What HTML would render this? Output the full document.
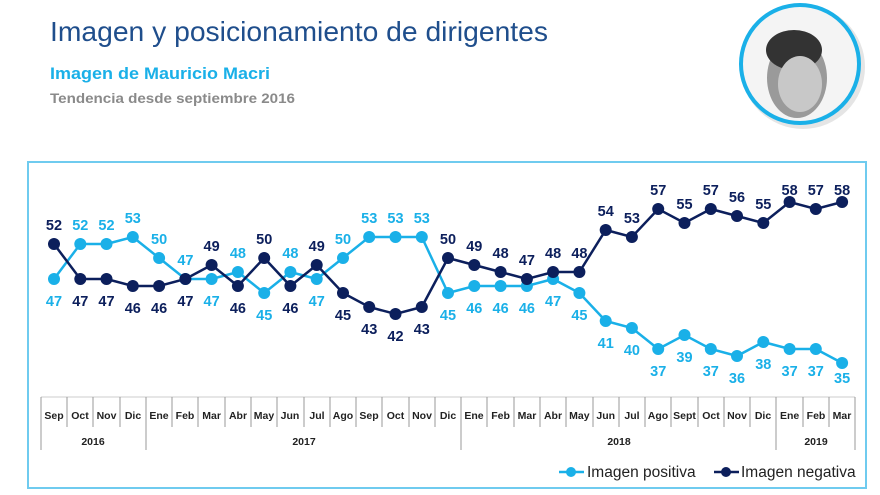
<!DOCTYPE html>
<html><head><meta charset="utf-8"><style>
html,body{margin:0;padding:0;background:#fff;}
svg{display:block;font-family:"Liberation Sans",sans-serif;}
</style></head><body>
<svg width="880" height="495" viewBox="0 0 880 495" xmlns="http://www.w3.org/2000/svg">
<text x="50" y="41" font-size="27.5" fill="#1f4e8c" textLength="498" lengthAdjust="spacingAndGlyphs">Imagen y posicionamiento de dirigentes</text>
<text x="50" y="79" font-size="16.5" font-weight="bold" fill="#1ab0e8" textLength="220" lengthAdjust="spacingAndGlyphs">Imagen de Mauricio Macri</text>
<text x="50" y="103" font-size="14" font-weight="bold" fill="#8a8a8a" textLength="245" lengthAdjust="spacingAndGlyphs">Tendencia desde septiembre 2016</text>
<circle cx="803" cy="67" r="62" fill="#ccc" opacity="0.5"/>
<circle cx="800" cy="64" r="59" fill="#f4f4f4" stroke="#1ab0e8" stroke-width="4"/>
<ellipse cx="797" cy="78" rx="30" ry="40" fill="#9a9a9a"/>
<ellipse cx="794" cy="50" rx="28" ry="20" fill="#333"/>
<ellipse cx="800" cy="84" rx="22" ry="28" fill="#c8c8c8"/>
<rect x="28" y="162" width="838" height="326" fill="none" stroke="#6fcbef" stroke-width="2"/>
<g stroke="#999" stroke-width="1">
<line x1="41" y1="397" x2="855" y2="397" stroke="#ccc"/>
<line x1="41" y1="397" x2="41" y2="450"/><line x1="855" y1="397" x2="855" y2="450"/>
<line x1="146" y1="397" x2="146" y2="450"/><line x1="461" y1="397" x2="461" y2="450"/><line x1="776" y1="397" x2="776" y2="450"/>
<line x1="67" y1="397" x2="67" y2="427"/><line x1="93" y1="397" x2="93" y2="427"/><line x1="120" y1="397" x2="120" y2="427"/>
<line x1="172" y1="397" x2="172" y2="427"/><line x1="198" y1="397" x2="198" y2="427"/><line x1="225" y1="397" x2="225" y2="427"/><line x1="251" y1="397" x2="251" y2="427"/><line x1="277" y1="397" x2="277" y2="427"/><line x1="304" y1="397" x2="304" y2="427"/><line x1="330" y1="397" x2="330" y2="427"/><line x1="356" y1="397" x2="356" y2="427"/><line x1="382" y1="397" x2="382" y2="427"/><line x1="409" y1="397" x2="409" y2="427"/><line x1="435" y1="397" x2="435" y2="427"/>
<line x1="487" y1="397" x2="487" y2="427"/><line x1="514" y1="397" x2="514" y2="427"/><line x1="540" y1="397" x2="540" y2="427"/><line x1="566" y1="397" x2="566" y2="427"/><line x1="593" y1="397" x2="593" y2="427"/><line x1="619" y1="397" x2="619" y2="427"/><line x1="645" y1="397" x2="645" y2="427"/><line x1="671" y1="397" x2="671" y2="427"/><line x1="698" y1="397" x2="698" y2="427"/><line x1="724" y1="397" x2="724" y2="427"/><line x1="750" y1="397" x2="750" y2="427"/>
<line x1="803" y1="397" x2="803" y2="427"/><line x1="829" y1="397" x2="829" y2="427"/>
</g>
<g font-size="10.5" font-weight="bold" fill="#222" text-anchor="middle">
<text x="54" y="419">Sep</text><text x="80" y="419">Oct</text><text x="106.5" y="419">Nov</text><text x="133" y="419">Dic</text><text x="159" y="419">Ene</text><text x="185" y="419">Feb</text><text x="211.6" y="419">Mar</text><text x="238" y="419">Abr</text><text x="264" y="419">May</text><text x="290" y="419">Jun</text><text x="317" y="419">Jul</text><text x="343" y="419">Ago</text><text x="369" y="419">Sep</text><text x="395.5" y="419">Oct</text><text x="422" y="419">Nov</text><text x="448" y="419">Dic</text><text x="474" y="419">Ene</text><text x="500.6" y="419">Feb</text><text x="527" y="419">Mar</text><text x="553" y="419">Abr</text><text x="579.4" y="419">May</text><text x="605.7" y="419">Jun</text><text x="632" y="419">Jul</text><text x="658" y="419">Ago</text><text x="684.5" y="419">Sept</text><text x="711" y="419">Oct</text><text x="737" y="419">Nov</text><text x="763" y="419">Dic</text><text x="789.6" y="419">Ene</text><text x="816" y="419">Feb</text><text x="842" y="419">Mar</text>
<text x="93" y="445">2016</text><text x="304" y="445">2017</text><text x="619" y="445">2018</text><text x="816" y="445">2019</text>
</g>
<polyline fill="none" stroke="#1ab0e8" stroke-width="2.5" points="54,279 80.3,244 106.5,244 132.8,237 159.1,258 185.4,279 211.6,279 237.9,272 264.2,293 290.4,272 316.7,279 343,258 369.2,237 395.5,237 421.8,237 448,293 474.3,286 500.6,286 526.9,286 553.1,279 579.4,293 605.7,321 631.9,328 658.2,349 684.5,335 710.8,349 737,356 763.3,342 789.6,349 815.8,349 842.1,363"/>
<polyline fill="none" stroke="#0c1f5c" stroke-width="2.5" points="54,244 80.3,279 106.5,279 132.8,286 159.1,286 185.4,279 211.6,265 237.9,286 264.2,258 290.4,286 316.7,265 343,293 369.2,307 395.5,314 421.8,307 448,258 474.3,265 500.6,272 526.9,279 553.1,272 579.4,272 605.7,230 631.9,237 658.2,209 684.5,223 710.8,209 737,216 763.3,223 789.6,202 815.8,209 842.1,202"/>
<g fill="#1ab0e8">
<circle cx="54" cy="279" r="6"/><circle cx="80.3" cy="244" r="6"/><circle cx="106.5" cy="244" r="6"/><circle cx="132.8" cy="237" r="6"/><circle cx="159.1" cy="258" r="6"/><circle cx="185.4" cy="279" r="6"/><circle cx="211.6" cy="279" r="6"/><circle cx="237.9" cy="272" r="6"/><circle cx="264.2" cy="293" r="6"/><circle cx="290.4" cy="272" r="6"/><circle cx="316.7" cy="279" r="6"/><circle cx="343" cy="258" r="6"/><circle cx="369.2" cy="237" r="6"/><circle cx="395.5" cy="237" r="6"/><circle cx="421.8" cy="237" r="6"/><circle cx="448" cy="293" r="6"/><circle cx="474.3" cy="286" r="6"/><circle cx="500.6" cy="286" r="6"/><circle cx="526.9" cy="286" r="6"/><circle cx="553.1" cy="279" r="6"/><circle cx="579.4" cy="293" r="6"/><circle cx="605.7" cy="321" r="6"/><circle cx="631.9" cy="328" r="6"/><circle cx="658.2" cy="349" r="6"/><circle cx="684.5" cy="335" r="6"/><circle cx="710.8" cy="349" r="6"/><circle cx="737" cy="356" r="6"/><circle cx="763.3" cy="342" r="6"/><circle cx="789.6" cy="349" r="6"/><circle cx="815.8" cy="349" r="6"/><circle cx="842.1" cy="363" r="6"/>
</g>
<g fill="#0c1f5c">
<circle cx="54" cy="244" r="6"/><circle cx="80.3" cy="279" r="6"/><circle cx="106.5" cy="279" r="6"/><circle cx="132.8" cy="286" r="6"/><circle cx="159.1" cy="286" r="6"/><circle cx="185.4" cy="279" r="6"/><circle cx="211.6" cy="265" r="6"/><circle cx="237.9" cy="286" r="6"/><circle cx="264.2" cy="258" r="6"/><circle cx="290.4" cy="286" r="6"/><circle cx="316.7" cy="265" r="6"/><circle cx="343" cy="293" r="6"/><circle cx="369.2" cy="307" r="6"/><circle cx="395.5" cy="314" r="6"/><circle cx="421.8" cy="307" r="6"/><circle cx="448" cy="258" r="6"/><circle cx="474.3" cy="265" r="6"/><circle cx="500.6" cy="272" r="6"/><circle cx="526.9" cy="279" r="6"/><circle cx="553.1" cy="272" r="6"/><circle cx="579.4" cy="272" r="6"/><circle cx="605.7" cy="230" r="6"/><circle cx="631.9" cy="237" r="6"/><circle cx="658.2" cy="209" r="6"/><circle cx="684.5" cy="223" r="6"/><circle cx="710.8" cy="209" r="6"/><circle cx="737" cy="216" r="6"/><circle cx="763.3" cy="223" r="6"/><circle cx="789.6" cy="202" r="6"/><circle cx="815.8" cy="209" r="6"/><circle cx="842.1" cy="202" r="6"/>
</g>
<g font-size="14.5" font-weight="bold" fill="#1ab0e8" text-anchor="middle">
<text x="54" y="306">47</text><text x="80.3" y="230">52</text><text x="106.5" y="230">52</text><text x="132.8" y="223">53</text><text x="159.1" y="244">50</text><text x="185.4" y="265">47</text><text x="211.6" y="306">47</text><text x="237.9" y="258">48</text><text x="264.2" y="320">45</text><text x="290.4" y="258">48</text><text x="316.7" y="306">47</text><text x="343" y="244">50</text><text x="369.2" y="223">53</text><text x="395.5" y="223">53</text><text x="421.8" y="223">53</text><text x="448" y="320">45</text><text x="474.3" y="313">46</text><text x="500.6" y="313">46</text><text x="526.9" y="313">46</text><text x="553.1" y="306">47</text><text x="579.4" y="320">45</text><text x="605.7" y="348">41</text><text x="631.9" y="355">40</text><text x="658.2" y="376">37</text><text x="684.5" y="362">39</text><text x="710.8" y="376">37</text><text x="737" y="383">36</text><text x="763.3" y="369">38</text><text x="789.6" y="376">37</text><text x="815.8" y="376">37</text><text x="842.1" y="383">35</text>
</g>
<g font-size="14.5" font-weight="bold" fill="#0c1f5c" text-anchor="middle">
<text x="54" y="230">52</text><text x="80.3" y="306">47</text><text x="106.5" y="306">47</text><text x="132.8" y="313">46</text><text x="159.1" y="313">46</text><text x="185.4" y="306">47</text><text x="211.6" y="251">49</text><text x="237.9" y="313">46</text><text x="264.2" y="244">50</text><text x="290.4" y="313">46</text><text x="316.7" y="251">49</text><text x="343" y="320">45</text><text x="369.2" y="334">43</text><text x="395.5" y="341">42</text><text x="421.8" y="334">43</text><text x="448" y="244">50</text><text x="474.3" y="251">49</text><text x="500.6" y="258">48</text><text x="526.9" y="265">47</text><text x="553.1" y="258">48</text><text x="579.4" y="258">48</text><text x="605.7" y="216">54</text><text x="631.9" y="223">53</text><text x="658.2" y="195">57</text><text x="684.5" y="209">55</text><text x="710.8" y="195">57</text><text x="737" y="202">56</text><text x="763.3" y="209">55</text><text x="789.6" y="195">58</text><text x="815.8" y="195">57</text><text x="842.1" y="195">58</text>
</g>
<line x1="559" y1="472" x2="584" y2="472" stroke="#1ab0e8" stroke-width="2.5"/><circle cx="571" cy="472" r="5" fill="#1ab0e8"/>
<text x="587" y="477" font-size="15.5" fill="#222">Imagen positiva</text>
<line x1="714" y1="472" x2="739" y2="472" stroke="#0c1f5c" stroke-width="2.5"/><circle cx="726" cy="472" r="5" fill="#0c1f5c"/>
<text x="741" y="477" font-size="15.5" fill="#222">Imagen negativa</text>
</svg>
</body></html>
